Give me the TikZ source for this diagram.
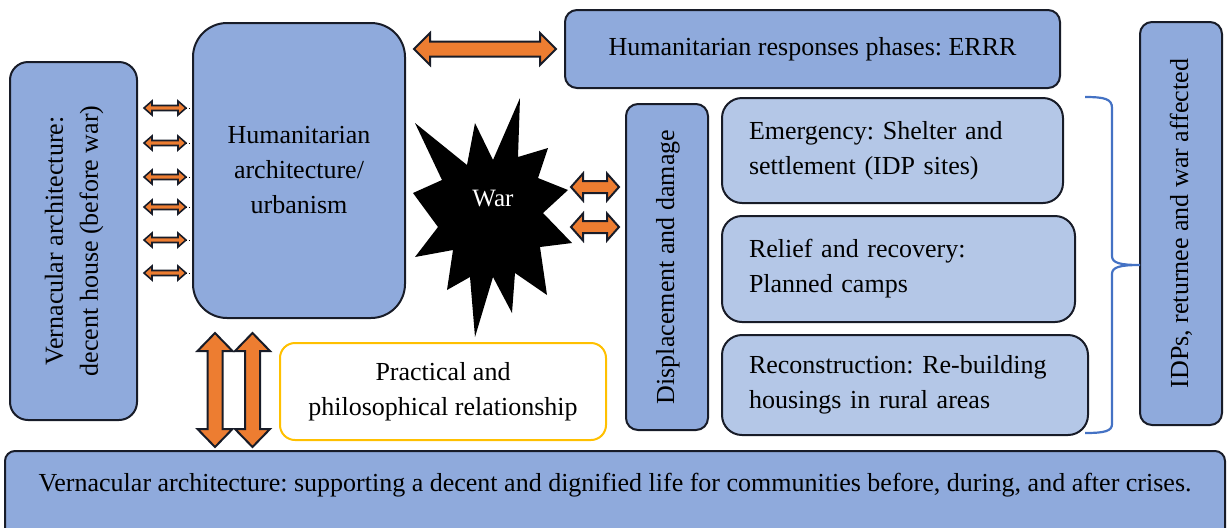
\documentclass[tikz,border=0pt]{standalone}
\usepackage{fontspec}
\setmainfont{Liberation Serif}
\usepackage{tikz}
\usetikzlibrary{positioning,calc}
\definecolor{boxblue}{RGB}{143,170,220}
\definecolor{lightblue}{RGB}{180,199,231}
\definecolor{edgedark}{RGB}{24,28,40}
\definecolor{arroworange}{RGB}{237,125,49}
\definecolor{bracecol}{RGB}{68,114,196}
\definecolor{gold}{RGB}{255,192,0}
\newcommand{\txtsize}{\fontsize{13}{17.5}\selectfont}
\newcommand{\uprot}[1]{\rotatebox{90}{\begin{tabular}{@{}c@{}}#1\end{tabular}}}
% block double arrow: [style] centre, angle, half length, head half width, shaft half width, head length
\newcommand{\blockarrow}[7][]{%
  \begin{scope}[shift={#2},rotate=#3]
    \filldraw[draw=edgedark,fill=arroworange,line width=1pt,line join=miter,#1]
      (-#4,0) -- (-#4+#7,#5) -- (-#4+#7,#6) -- (#4-#7,#6) -- (#4-#7,#5) -- (#4,0)
      -- (#4-#7,-#5) -- (#4-#7,-#6) -- (-#4+#7,-#6) -- (-#4+#7,-#5) -- cycle;
  \end{scope}}

\begin{document}
\frenchspacing
\begin{tikzpicture}[x=0.5pt,y=-0.5pt,
  box/.style={draw=edgedark,line width=1pt,fill=boxblue,rounded corners=#1,inner sep=0pt,align=center,font=\txtsize},
  box/.default=6pt,
  phase/.style={box=10pt,fill=lightblue,align=left,inner xsep=13.5pt}]
\useasboundingbox (0,0) rectangle (1228,527);

% boxes
\node[box=9pt,minimum width=63.5pt,minimum height=179pt] (vern) at (73.5,241)
  {\uprot{Vernacular architecture:\\decent house (before war)}};
\node[box=17pt,minimum width=106pt,minimum height=147.5pt] (hum) at (299,170.5)
  {Humanitarian\\architecture/\\urbanism};
\node[box,minimum width=247.5pt,minimum height=39pt] (resp) at (812.5,49)
  {\raisebox{2.5pt}{Humanitarian responses phases: ERRR}};
\node[box,minimum width=41pt,minimum height=163pt] (disp) at (667,267)
  {\uprot{Displacement and damage}};
\node[phase,text width=143.5pt,minimum height=52.5pt] (emer) at (892.5,150.5)
  {Emergency: Shelter and\\settlement (IDP sites)};
\node[phase,text width=149.5pt,minimum height=53pt] (relief) at (898.5,269)
  {Relief and recovery:\\Planned camps};
\node[phase,text width=156pt,minimum height=50pt] (recon) at (905,385)
  {Reconstruction: Re-building\\housings in rural areas};
\node[box,minimum width=41pt,minimum height=201.5pt] (idp) at (1181,223.5)
  {\uprot{IDPs, returnee and war affected}};
\node[box=7.5pt,draw=gold,fill=white,minimum width=163pt,minimum height=48.5pt] (prac) at (443,391.5)
  {Practical and\\philosophical relationship};
\node[box=5pt,anchor=north,minimum width=610pt,text height=20pt,text depth=28pt] (base) at (615,450)
  {Vernacular architecture: supporting a decent and dignified life for communities before, during, and after crises.};

% war
\fill[black] (520,98) -- (518,157) -- (548,148) -- (538,178) -- (568,190) -- (543,213)
  -- (572,243) -- (540,247) -- (547,295) -- (515,273) -- (512,313) -- (493,277)
  -- (475,337) -- (470,277) -- (447,290) -- (453,250) -- (415,257) -- (438,227)
  -- (413,193) -- (442,180) -- (415,123) -- (467,165) -- (475,123) -- (493,160) -- cycle;
\node[text=white,font=\fontsize{12.5}{15}\selectfont] (war) at (493,198) {War};

% block arrows
\blockarrow{($(hum.east |- resp.west)!0.5!(resp.west)$)}{0}{71}{16}{7.5}{16}
\foreach \y in {108,143,177,207,240,273}{
  \coordinate (s\y) at ($(vern.east |- 0,\y)!0.5!(hum.west |- 0,\y)$);
  \blockarrow[line width=0.8pt]{(s\y)}{0}{21}{7}{2.5}{8}
  \draw[densely dotted,line width=0.5pt] ($(s\y)+(21,0)$) -- (s\y -| hum.west);
}
\foreach \y in {187,227}{
  \blockarrow{($(disp.west |- 0,\y)+(-30,0)$)}{0}{24}{13.5}{6}{12}
}
\foreach \x in {215,252.5}{
  \blockarrow{(\x,390)}{90}{57}{17.5}{7.5}{18}
}

% brace
\draw[bracecol,line width=1.1pt] (1085,97) .. controls (1105,97) and (1112,99) .. (1112,108)
  -- (1112,256) .. controls (1112,263) and (1120,265) .. (1140,265)
  .. controls (1120,265) and (1112,267) .. (1112,274)
  -- (1112,424) .. controls (1112,431) and (1105,433) .. (1085,433);
\end{tikzpicture}
\end{document}
